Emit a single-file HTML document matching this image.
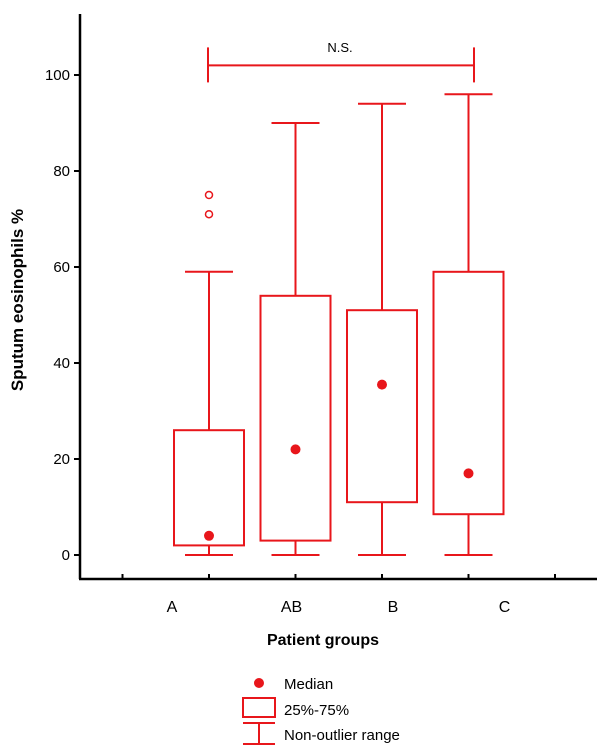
<!DOCTYPE html>
<html><head><meta charset="utf-8"><style>
body{margin:0;background:#fff}
svg text{font-family:"Liberation Sans",sans-serif}
</style></head><body>
<svg width="608" height="750" viewBox="0 0 608 750">
<g id="axes" stroke="#000" stroke-width="2.5" fill="none">
<line x1="80" y1="14" x2="80" y2="579"/>
<line x1="79" y1="579" x2="597" y2="579"/>
</g>
<g id="yticks"></g>
<g id="xticks"></g>
<g id="marks"></g>
<text x="0" y="0" transform="translate(23,300) rotate(-90)" text-anchor="middle" font-size="17" font-weight="bold">Sputum eosinophils %</text>
<text x="323" y="645" text-anchor="middle" font-size="16" font-weight="bold">Patient groups</text>
<text x="340" y="52" text-anchor="middle" font-size="13">N.S.</text>
<g stroke="#e8161b" stroke-width="2" fill="none">
<circle cx="259" cy="683" r="5" fill="#e8161b" stroke="none"/>
<rect x="243" y="698" width="32" height="19"/>
<line x1="243" y1="723" x2="275" y2="723"/><line x1="259" y1="723" x2="259" y2="744"/><line x1="243" y1="744" x2="275" y2="744"/>
</g>
<text x="284" y="689" font-size="15">Median</text>
<text x="284" y="715" font-size="15">25%-75%</text>
<text x="284" y="740" font-size="15">Non-outlier range</text>
</svg>
<script>
const categories=["A","AB","B","C"];
const medians=[4,22,35.5,17];
const q1=[2,3,11,8.5];
const q3=[26,54,51,59];
const whiskerLow=[0,0,0,0];
const whiskerHigh=[59,90,94,96];
const outlierGroup=[0,0];
const outlierValues=[75,71];
const yTicks=[0,20,40,60,80,100];
const nsBracketValue=102;
const NS="http://www.w3.org/2000/svg";
const RED="#e8161b";
function y(v){return 555-4.8*v;}
function x(i){return 209+86.5*i;}
function mk(tag,attrs,parent){const e=document.createElementNS(NS,tag);for(const k in attrs)e.setAttribute(k,attrs[k]);parent.appendChild(e);return e;}
const yt=document.getElementById('yticks'),xt=document.getElementById('xticks'),mg=document.getElementById('marks');
yTicks.forEach(v=>{
 const l=mk('line',{x1:74,x2:80,y1:y(v),y2:y(v),stroke:'#000','stroke-width':2},yt);
 
 
 const t=mk('text',{x:70,y:y(v)+5,'text-anchor':'end','font-size':15},yt);
 t.textContent=v;
 
 
});
for(let i=-1;i<=4;i++){
 const l=mk('line',{x1:x(i),x2:x(i),y1:574,y2:579,stroke:'#000','stroke-width':2},xt);
 
 
}
const labelOff=[-37,-4,11,36];
categories.forEach((c,i)=>{
 const t=mk('text',{x:x(i)+labelOff[i],y:612,'text-anchor':'middle','font-size':16},xt);
 t.textContent=c;
 
 
 const g=mk('g',{stroke:RED,'stroke-width':2,fill:'none'},mg);
 
 
 const cx=x(i);
 mk('line',{x1:cx,x2:cx,y1:y(q3[i]),y2:y(whiskerHigh[i])},g);
 mk('line',{x1:cx,x2:cx,y1:y(q1[i]),y2:y(whiskerLow[i])},g);
 mk('line',{x1:cx-24,x2:cx+24,y1:y(whiskerHigh[i]),y2:y(whiskerHigh[i])},g);
 mk('line',{x1:cx-24,x2:cx+24,y1:y(whiskerLow[i]),y2:y(whiskerLow[i])},g);
 const r=mk('rect',{x:cx-35,y:y(q3[i]),width:70,height:y(q1[i])-y(q3[i])},g);
 
 
 const m=mk('circle',{cx:cx,cy:y(medians[i]),r:5,fill:RED,stroke:'none'},g);
 
 
});
outlierValues.forEach((v,k)=>{
 const o=mk('circle',{cx:x(outlierGroup[k]),cy:y(v),r:3.5,fill:'none',stroke:RED,'stroke-width':1.5},mg);
 
 
});
const b=mk('g',{stroke:RED,'stroke-width':2},mg);


const bx1=208,bx2=474,by=y(nsBracketValue);
mk('line',{x1:bx1,x2:bx2,y1:by,y2:by},b);
mk('line',{x1:bx1,x2:bx1,y1:by-18,y2:by+17},b);
mk('line',{x1:bx2,x2:bx2,y1:by-18,y2:by+17},b);
</script>
</body></html>
